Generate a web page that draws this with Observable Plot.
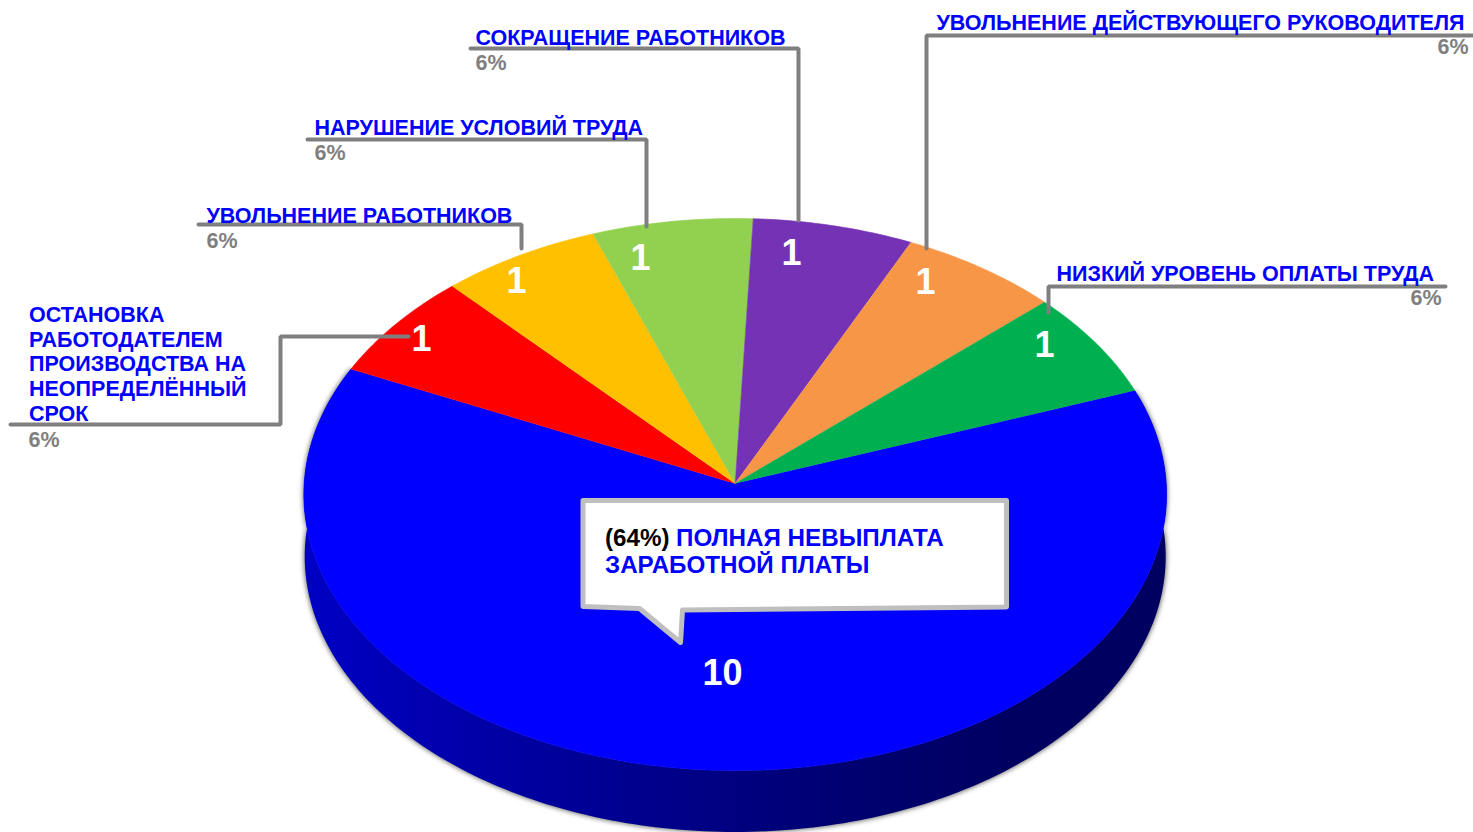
<!DOCTYPE html>
<html><head><meta charset="utf-8">
<script src="https://cdn.jsdelivr.net/npm/d3@7"></script>
<script src="https://cdn.jsdelivr.net/npm/@observablehq/plot@0.6"></script>
<style>
html,body{margin:0;padding:0;background:#fff;overflow:hidden}
svg{display:block}
</style></head><body><div id="chart"></div>
<script>
// Data
const categories = ["ПОЛНАЯ НЕВЫПЛАТА\nЗАРАБОТНОЙ ПЛАТЫ","ОСТАНОВКА\nРАБОТОДАТЕЛЕМ\nПРОИЗВОДСТВА НА\nНЕОПРЕДЕЛЁННЫЙ\nСРОК","УВОЛЬНЕНИЕ РАБОТНИКОВ","НАРУШЕНИЕ УСЛОВИЙ ТРУДА","СОКРАЩЕНИЕ РАБОТНИКОВ","УВОЛЬНЕНИЕ ДЕЙСТВУЮЩЕГО РУКОВОДИТЕЛЯ","НИЗКИЙ УРОВЕНЬ ОПЛАТЫ ТРУДА"];
const values = [10,1,1,1,1,1,1];
const percents = ["64%","6%","6%","6%","6%","6%","6%"];
const colors = ["#0000ff","#ff0000","#ffc000","#92d050","#7433b5","#f79646","#00b050"];

// Layout (separate from the data)
const startDeg = 70;
const pie3d = {cx:734.7, cy:483, a:275.6, b:431, k:-0.0399};
const depth = 62, bottomScale = 0.998;
const sideStops = ["#0000c4","#0000a8","#00008c","#000074","#000062","#000060"];
const valueAnchors = [[722,673],[421,339],[516,281],[640,258],[791,253],[925,282],[1044,345]];
const labelAnchors = [null,[28.5,420],[206,222],[314,134],[475,44],[1464,29],[1056,280]];
const labelSides = [null,"start","start","start","start","end","start"];
const percentAnchors = [null,[28,446],[206,247],[314,159],[475,69],[1468,53],[1441,304]];
const percentSides = [null,"start","start","start","start","end","end"];
const leaders = [
  null,
  [[10,424],[280,424],[280,336],[408,336]],
  [[198,224],[521,224],[521,248]],
  [[307,139],[646,139],[646,226]],
  [[470,48],[798,48],[798,220]],
  [[1473,35],[926,35],[926,248]],
  [[1445,286],[1048,286],[1048,312]]
];
const calloutShape = [[582.5,500],[1006,500],[1006,606.5],[682,609.5],[680,642],[639,608],[582.5,606],[582.5,500]];

// Geometry from the values
const rad = Math.PI/180;
const arcs = d3.pie().value(d=>d).sort(null).startAngle(startDeg*rad).endAngle((startDeg+360)*rad)(values);
function project(phi, s=1, dy=0){
  const u=Math.sin(phi), v=-Math.cos(phi), den=1+pie3d.k*v;
  return {x:pie3d.cx+s*pie3d.b*u/den, y:pie3d.cy+s*pie3d.a*v/den+dy};
}
const arcPoints=(a0,a1,s,dy)=>{const n=Math.max(2,Math.ceil((a1-a0)/rad));return d3.range(n+1).map(i=>project(a0+(a1-a0)*i/n,s,dy));};
const slicePoints = arcs.flatMap((a,i)=>[{x:pie3d.cx,y:pie3d.cy},...arcPoints(a.startAngle,a.endAngle,1,0)].map(p=>({...p,name:categories[i],color:colors[i]})));
const blue = arcs[0];
const bottomArc = arcPoints(blue.startAngle,blue.endAngle,bottomScale,depth);
const topArc = arcPoints(blue.startAngle,blue.endAngle,1,0);
const sidePoints = [...bottomArc,...topArc.slice().reverse()];
const leaderPoints = leaders.flatMap((l,i)=>l?l.map(([x,y])=>({x,y,name:categories[i]})):[]);
const calloutPoints = calloutShape.map(([x,y])=>({x,y}));
const rows = categories.map((c,i)=>({c,p:percents[i],v:values[i],la:labelAnchors[i],pa:percentAnchors[i],va:valueAnchors[i],ls:labelSides[i],ps:percentSides[i]}));
const outer = rows.filter(d=>d.la);
const font = {fontFamily:"'Liberation Sans',Arial,sans-serif",fontWeight:"bold"};
const labelStyle = {x:d=>d.la[0],y:d=>d.la[1],text:"c",fill:"#0000ff",fontSize:21.5,lineHeight:1.14,lineAnchor:"bottom",...font};
const pctStyle = {x:d=>d.pa[0],y:d=>d.pa[1],text:"p",fill:"#7f7f7f",fontSize:21.5,lineAnchor:"bottom",...font};
const blurred = (index,scales,channels,dims,ctx,next)=>{const g=next(index,scales,channels,dims,ctx);g.style.filter="blur(2.5px)";return g;};
const gradientDefs = () => {
  const g=document.createElementNS("http://www.w3.org/2000/svg","g");
  const stops=sideStops.map((c,i)=>`<stop offset="${i/(sideStops.length-1)}" stop-color="${c}"/>`).join("");
  g.innerHTML=`<defs><linearGradient id="pieSide" gradientUnits="userSpaceOnUse" x1="303" y1="0" x2="1166" y2="0">${stops}</linearGradient></defs>`;
  return g;
};

const chart = Plot.plot({
  width:1473,height:832,margin:0,
  style:{background:"#fff"},
  x:{domain:[0,1473],range:[0,1473],axis:null},
  y:{domain:[0,832],range:[0,832],axis:null},
  color:{type:"identity"},
  marks:[
    gradientDefs,
    Plot.line(sidePoints,{x:"x",y:"y",fill:"#666",stroke:"#666",strokeWidth:1.5,render:blurred}),
    Plot.line(sidePoints,{x:"x",y:"y",fill:"url(#pieSide)",stroke:null}),
    Plot.line(slicePoints,{x:"x",y:"y",z:"name",fill:"color",stroke:"color",strokeWidth:0.6}),
    Plot.line(leaderPoints,{x:"x",y:"y",z:"name",stroke:"#7f7f7f",strokeWidth:4,strokeLinejoin:"miter"}),
    Plot.text(rows,{x:d=>d.va[0],y:d=>d.va[1],text:d=>String(d.v),fill:"#fff",fontSize:36,lineAnchor:"middle",textAnchor:"middle",...font}),
    Plot.text(outer.filter(d=>d.ls==="start"),{...labelStyle,textAnchor:"start"}),
    Plot.text(outer.filter(d=>d.ls==="end"),{...labelStyle,textAnchor:"end"}),
    Plot.text(outer.filter(d=>d.ps==="start"),{...pctStyle,textAnchor:"start"}),
    Plot.text(outer.filter(d=>d.ps==="end"),{...pctStyle,textAnchor:"end"}),
    Plot.line(calloutPoints,{x:"x",y:"y",fill:"#fff",stroke:"#bfbfbf",strokeWidth:5}),
    Plot.text(["("+percents[0]+")"],{x:()=>604.5,y:()=>545,text:d=>d,fill:"#000",fontSize:24.2,textAnchor:"start",lineAnchor:"bottom",...font}),
    Plot.text(categories[0].split("\n"),{x:(d,i)=>i?604.5:675.5,y:(d,i)=>i?572:545,text:d=>d,fill:"#0000ff",fontSize:24.2,textAnchor:"start",lineAnchor:"bottom",...font})
  ]
});
document.getElementById("chart").append(chart);
</script></body></html>
